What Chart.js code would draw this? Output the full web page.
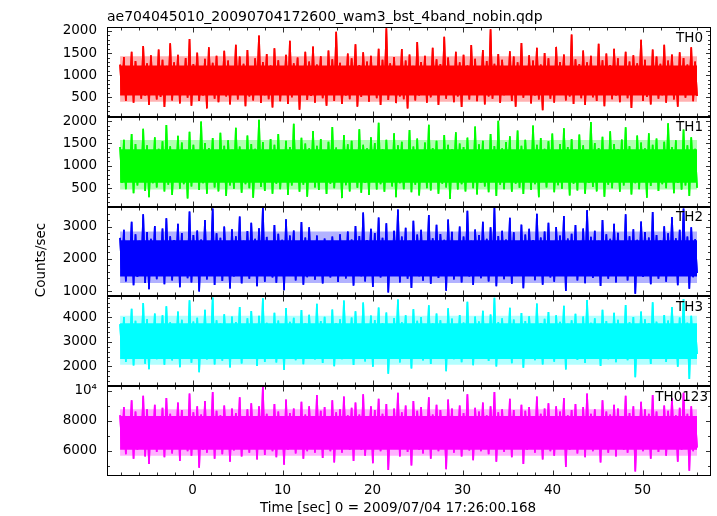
<!DOCTYPE html>
<html>
<head>
<meta charset="utf-8">
<script src="https://cdn.jsdelivr.net/npm/chart.js@4.4.1/dist/chart.umd.min.js"></script>
<style>
  html, body { margin: 0; padding: 0; background: #fff; }
  #wrap { position: relative; width: 717px; height: 516px; }
</style>
</head>
<body>
<div id="wrap"><canvas id="lc" width="717" height="516"></canvas></div>
<script>
const plotTitle = 'ae704045010_20090704172600_wam3_bst_4band_nobin.qdp';
const xTitle = 'Time [sec] 0 = 2009/07/04 17:26:00.168';
const yTitle = 'Counts/sec';

const bandNames = ['TH0', 'TH1', 'TH2', 'TH3', 'TH0123'];
const bandColors = ['#ff0000', '#00ff00', '#0000ff', '#00ffff', '#ff00ff'];
// edges of the solid part of each light curve
const bandCoreLo = [540, 620, 1450, 2300, 6050];
const bandCoreHi = [1220, 1370, 2580, 3760, 8300];
// edges of the thinner fringe of spikes around it
const bandFringeLo = [400, 470, 1250, 2060, 5650];
const bandFringeHi = [1430, 1580, 2850, 4060, 8750];

// axis limits / ticks
const xRange = [-9.5, 57.6];
const xMajorTicks = [0, 10, 20, 30, 40, 50];
const xMinorStep = 2;
const yMins = [60, 90, 835, 1190, 4300];
const yMaxs = [2090, 2096, 3620, 4850, 10290];
const yMajorTicks = [
  [500, 1000, 1500, 2000],
  [500, 1000, 1500, 2000],
  [1000, 2000, 3000],
  [2000, 3000, 4000],
  [6000, 8000, 10000]
];
const yMinorSteps = [100, 100, 200, 200, 1000];

// light curve covers -8.05 .. 56.05 s
const tFirst = -8.05;
const tLast = 56.05;

// count rates, alternating local peaks and dips
const th0Rate = [
  1240,560, 1410,420, 1090,610, 1530,380, 1320,690, 1180,470, 1660,540, 1270,330, 1450,620, 1130,450,
  1580,510, 1350,280, 1210,640, 1720,430, 1290,570, 1460,360, 1100,600, 1390,490, 1820,310, 1250,650,
  1510,420, 1160,540, 1370,250, 1630,600, 1280,470, 1440,390, 1060,660, 1550,520, 1330,340, 1200,580,
  1690,450, 1420,610, 1260,300, 1570,520, 1130,430, 1380,680, 1900,370, 1300,550, 1480,460, 1220,270,
  1610,590, 1340,410, 1150,630, 1460,350, 1780,500, 1270,560, 1400,220, 1190,620, 1530,440, 1310,530,
  1650,380, 1240,660, 1430,480, 1090,310, 1560,570, 1360,420, 1980,600, 1280,350, 1170,540, 1490,460,
  1380,640, 1700,290, 1230,510, 1520,580, 1310,400, 1440,620, 1120,480, 1600,330, 1350,560, 2060,440,
  1270,600, 1410,370, 1190,520, 1590,460, 1330,250, 1470,590, 1210,430, 1750,540, 1300,640, 1440,380,
  1140,500, 1620,600, 1360,330, 1250,560, 1870,470, 1400,650, 1180,390, 1530,520, 1290,280, 1460,610,
  1220,450, 1680,560, 1370,410, 1110,630, 1570,340, 1320,520, 2040,470, 1260,600, 1480,370, 1350,550,
  1190,640, 1540,420, 1420,290, 1290,580, 1730,490, 1160,620, 1450,360, 1330,540, 1620,450, 1240,210,
  1500,600, 1380,470, 1210,380, 1640,560, 1300,640, 1470,430, 1130,520, 1920,350, 1360,590, 1250,480,
  1560,330, 1290,610, 1440,500, 1180,420, 1710,570, 1340,300, 1490,630, 1230,460, 1600,540, 1380,390,
  1120,600, 1530,480, 1310,260, 1450,560, 1270,640, 1800,420, 1350,510, 1200,340, 1580,620, 1420,470,
  1260,550, 1690,380, 1330,600, 1470,450, 1150,290, 1520,580, 1390,490, 1240,640, 1630,410, 1310,530
];
const th1Rate = [
  1420,620, 1580,480, 1270,700, 1710,390, 1490,560, 1350,650, 1830,440, 1460,300, 1300,610, 1640,520,
  1380,700, 1550,430, 1910,580, 1440,350, 1290,660, 1670,490, 1520,590, 1360,270, 1760,540, 1470,680,
  1330,460, 1990,610, 1510,380, 1400,700, 1620,520, 1280,430, 1740,640, 1450,330, 1570,560, 1360,490,
  1850,680, 1430,400, 1300,590, 1680,500, 1490,290, 1380,650, 2030,530, 1530,440, 1320,700, 1600,380,
  1470,600, 1710,480, 1340,660, 1560,350, 1420,560, 1940,690, 1290,420, 1630,580, 1500,310, 1390,640,
  1780,520, 1450,460, 1600,690, 1310,370, 1540,600, 1870,500, 1410,660, 1350,280, 1690,570, 1480,430,
  1560,650, 1300,510, 1820,400, 1470,620, 1390,350, 1640,690, 1510,470, 1960,590, 1370,420, 1580,660,
  1290,540, 1730,300, 1460,610, 1540,480, 1350,690, 1800,410, 1430,580, 1610,340, 1280,640, 1520,500,
  1920,450, 1400,680, 1560,380, 1330,600, 1690,520, 1470,260, 1370,650, 1750,470, 1500,590, 1420,430,
  1630,700, 1310,500, 1880,360, 1480,630, 1560,540, 1350,410, 1710,670, 1440,330, 2010,580, 1390,480,
  1530,690, 1660,420, 1300,600, 1790,510, 1450,370, 1580,650, 1340,460, 1900,590, 1470,300, 1620,640,
  1380,520, 1550,680, 1720,410, 1310,570, 1490,490, 1840,660, 1420,340, 1600,600, 1360,450, 1700,700,
  1460,380, 1290,620, 1980,530, 1510,430, 1400,690, 1650,310, 1330,580, 1770,500, 1490,650, 1370,420,
  1590,560, 1860,690, 1440,360, 1320,610, 1680,480, 1520,640, 1390,290, 1730,550, 1470,670, 1610,440,
  1300,590, 1540,500, 1950,680, 1420,390, 1570,620, 1350,470, 1810,560, 1460,330, 1640,660, 1380,510
];
const th2Rate = [
  2650,1520, 2900,1300, 2480,1650, 3150,1180, 2760,1440, 2560,1590, 3380,1250, 2830,1060, 2620,1500, 3020,1370,
  2510,1620, 2940,1210, 3260,1470, 2700,1330, 2580,1680, 3090,1120, 2800,1550, 2460,1400, 3470,1270, 2740,1600,
  2880,990, 2600,1480, 3200,1360, 2530,1640, 3560,1190, 2790,1520, 2650,1310, 3000,1680, 2470,1080, 2920,1450,
  2700,1590, 3310,1240, 2560,1500, 2860,1380, 3120,1660, 2620,1150, 2950,1540, 3600,1290, 2680,1620, 2500,1420,
  3050,1260, 2780,1580, 2590,1030, 3230,1470, 2720,1650, 2880,1330, 2450,1560, 3140,1200, 2660,1430, 2980,1620,
  2540,1350, 2720,1510, 2480,1240, 2630,1660, 2410,1420, 2690,1560, 2520,1280, 2760,1640, 2470,1390, 2850,1500,
  2600,1170, 3020,1600, 2710,1460, 3440,1300, 2580,1680, 2930,1130, 2800,1520, 3280,1420, 2650,1590, 3100,960,
  2530,1490, 2870,1640, 3530,1270, 2690,1550, 2960,1380, 2560,1100, 3180,1610, 2750,1460, 2900,1320, 2480,1670,
  3360,1230, 2640,1540, 3060,1410, 2770,1650, 2590,1010, 3220,1500, 2840,1360, 2510,1620, 3000,1270, 2690,1580,
  3490,1450, 2560,1190, 2910,1660, 2740,1400, 3150,1540, 2620,1300, 2980,1630, 3580,1150, 2710,1490, 2870,1370,
  2600,1610, 3270,1230, 2820,1520, 2490,1660, 3060,1090, 2750,1480, 2930,1620, 2580,1340, 3400,1550, 2660,1200,
  2850,1640, 3120,1420, 2540,1290, 2990,1580, 2720,1680, 3330,1000, 2630,1470, 2780,1600, 3050,1330, 2500,1550,
  2940,1240, 3510,1620, 2680,1410, 2870,1530, 2560,1160, 3200,1650, 2760,1380, 2620,1510, 3090,1270, 2810,1630,
  2480,1470, 3380,1330, 2700,1600, 2920,920, 2590,1520, 3160,1440, 2830,1660, 2660,1210, 3450,1560, 2740,1380,
  2570,1620, 3010,1290, 2790,1500, 3300,1660, 2640,1180, 2900,1480, 3560,1600, 2690,1070, 2980,1430, 2610,1560
];
const th3Rate = [
  3720,2450, 4010,2180, 3580,2600, 4350,2030, 3860,2380, 3650,2520, 4580,2110, 3930,1880, 3700,2470, 4150,2290,
  3610,2560, 4080,2070, 4450,2400, 3790,2240, 3660,2600, 4230,1960, 3900,2500, 3550,2330, 4690,2150, 3830,2560,
  3980,1760, 3690,2420, 4300,2280, 3620,2590, 4800,2080, 3880,2460, 3740,2230, 4120,2610, 3570,1950, 4030,2380,
  3800,2530, 4420,2120, 3650,2440, 3960,2300, 4250,2600, 3710,2010, 4060,2480, 4770,2180, 3770,2570, 3600,2350,
  4180,2160, 3870,2520, 3680,1850, 4380,2410, 3810,2600, 3980,2250, 3540,2490, 4290,2090, 3750,2370, 4100,2570,
  3630,2280, 4550,2450, 3850,2140, 4020,2610, 3590,2360, 4310,2000, 3760,2500, 3920,2290, 4680,2580, 3700,2420,
  3990,2060, 4240,2540, 3720,2400, 4600,2200, 3660,2620, 4070,1980, 3890,2460, 4400,2330, 3750,2550, 4190,1700,
  3620,2430, 3970,2590, 4720,2160, 3790,2480, 4080,2310, 3650,1910, 4330,2560, 3860,2390, 4010,2240, 3580,2610,
  4490,2100, 3740,2470, 4150,2330, 3880,2600, 3690,1800, 4370,2440, 3950,2290, 3600,2560, 4090,2170, 3780,2520,
  4630,2380, 3670,2050, 4030,2610, 3830,2340, 4260,2490, 3720,2220, 4110,2580, 4790,1990, 3800,2420, 3960,2300,
  3690,2560, 4390,2130, 3910,2470, 3580,2610, 4170,1940, 3850,2410, 4040,2570, 3640,2250, 4560,2480, 3760,2080,
  3940,2600, 4210,2350, 3620,2190, 4080,2520, 3810,2620, 4470,1870, 3730,2410, 3880,2560, 4140,2260, 3600,2480,
  4030,2140, 4700,2570, 3770,2360, 3960,2470, 3650,2010, 4300,2610, 3850,2290, 3710,2450, 4180,2170, 3900,2590,
  3580,2400, 4500,2250, 3790,2550, 4010,1560, 3680,2460, 4230,2340, 3920,2610, 3750,2100, 4610,2500, 3820,2300,
  3660,2580, 4090,2180, 3870,2440, 4420,2600, 3720,1980, 3990,2410, 4740,2540, 3780,1480, 4060,2360, 3700,2500
];
const th0123Rate = [
  8350,6150, 8900,5750, 8050,6350, 9350,5450, 8600,6050, 8200,6300, 9650,5600, 8750,5100, 8300,6200, 9050,5900,
  8100,6350, 8850,5550, 9500,6100, 8450,5800, 8250,6400, 9200,5300, 8700,6250, 8000,5950, 9800,5650, 8550,6350,
  8950,4850, 8400,6050, 9300,5850, 8150,6300, 9900,5450, 8650,6150, 8350,5750, 9000,6400, 8050,5250, 8800,6000,
  8500,6300, 9550,5600, 8200,6100, 8750,5850, 9150,6400, 8300,5400, 8950,6200, 10300,5700, 8450,6350, 8100,5950,
  9100,5550, 8600,6250, 8250,5050, 9400,6050, 8500,6400, 8800,5800, 8000,6150, 9250,5450, 8400,5950, 8950,6350,
  8150,5850, 9700,6100, 8650,5500, 8900,6400, 8050,5950, 9350,5200, 8550,6200, 8750,5850, 9600,6350, 8350,6050,
  8850,5300, 9200,6300, 8400,6050, 9750,5650, 8250,6450, 8950,5150, 8700,6150, 9450,5950, 8450,6300, 9100,4700,
  8100,6100, 8800,6350, 9850,5600, 8550,6200, 9000,5900, 8200,5000, 9300,6300, 8650,6050, 8900,5800, 8050,6400,
  9550,5450, 8400,6150, 9050,5950, 8700,6350, 8300,4750, 9400,6100, 8800,5850, 8150,6300, 9000,5600, 8500,6250,
  9750,6000, 8250,5350, 8850,6400, 8600,5950, 9200,6150, 8350,5750, 8950,6300, 9900,5250, 8550,6100, 8750,5900,
  8300,6300, 9450,5550, 8700,6150, 8050,6400, 9050,5100, 8650,6050, 8900,6300, 8200,5850, 9600,6150, 8450,5400,
  8800,6400, 9150,5950, 8150,5650, 8950,6250, 8600,6450, 9500,4900, 8350,6050, 8700,6300, 9100,5800, 8100,6150,
  8900,5550, 9800,6300, 8450,5950, 8750,6150, 8250,5200, 9350,6400, 8600,5850, 8400,6100, 9050,5600, 8800,6350,
  8050,6050, 9650,5850, 8500,6250, 8950,4600, 8300,6150, 9250,5950, 8750,6400, 8450,5450, 9700,6200, 8600,5900,
  8200,6300, 9000,5650, 8650,6100, 9500,6400, 8350,5250, 8850,6050, 9850,6250, 8450,4650, 8950,5950, 8300,6200
];

const rates = [th0Rate, th1Rate, th2Rate, th3Rate, th0123Rate];

const FONT = 'DejaVu Sans';

// samples are evenly spaced over the observed time span
const withTimes = values => values.map((v, i) => ({
  x: tFirst + i * (tLast - tFirst) / (values.length - 1),
  y: v
}));

const fade = (hex, a) => {
  const n = parseInt(hex.slice(1), 16);
  return `rgba(${n >> 16}, ${(n >> 8) & 255}, ${n & 255}, ${a})`;
};

// every curve is drawn in layers that share the same points: a faint fill out to the
// fringe, then solid fills up to the top and down to the bottom of the dense core,
// so the core is solid and the single peaks and dips stick out of it
const datasets = [];
bandNames.forEach((name, i) => {
  const points = withTimes(rates[i]);
  const layer = (level, color, width) => ({
    label: name,
    data: points,
    yAxisID: 'y' + i,
    borderColor: bandColors[i],
    backgroundColor: color,
    borderWidth: width,
    pointRadius: 0,
    tension: 0,
    fill: { value: level }
  });
  datasets.push(layer(bandFringeHi[i], fade(bandColors[i], 0.3), 0));
  datasets.push(layer(bandFringeLo[i], fade(bandColors[i], 0.3), 0));
  datasets.push(layer(bandCoreHi[i], bandColors[i], 1.6));
  datasets.push(layer(bandCoreLo[i], bandColors[i], 1.6));
});

const scales = {
  x: {
    type: 'linear', position: 'bottom', min: xRange[0], max: xRange[1],
    grid: { display: false, drawTicks: false }, border: { display: false },
    ticks: { color: '#000', font: { family: FONT, size: 13.5 }, padding: 6, maxRotation: 0, autoSkip: false },
    afterBuildTicks: s => { s.ticks = xMajorTicks.map(v => ({ value: v })); },
    afterFit: s => { s.height = 40; }
  }
};
// stacked axes are placed bottom-up, so add the lowest panel first
for (let i = bandNames.length - 1; i >= 0; i--) {
  scales['y' + i] = {
    type: 'linear', position: 'left', stack: 'bands', stackWeight: 1,
    min: yMins[i], max: yMaxs[i],
    grid: { display: false, drawTicks: false }, border: { display: false },
    ticks: {
      color: '#000', font: { family: FONT, size: 13.5 }, padding: 10, autoSkip: false,
      callback: v => (v === 10000 ? '10\u2074' : String(v))
    },
    afterBuildTicks: s => { s.ticks = yMajorTicks[i].map(v => ({ value: v })); },
    afterFit: s => { s.width = 107; }
  };
}

const panelFrame = {
  id: 'panelFrame',
  beforeDatasetDraw(chart, args) {
    const ds = chart.data.datasets[args.index];
    const s = chart.scales[ds.yAxisID];
    const a = chart.chartArea;
    chart.ctx.save();
    chart.ctx.beginPath();
    chart.ctx.rect(a.left, s.top, a.right - a.left, s.bottom - s.top);
    chart.ctx.clip();
  },
  afterDatasetDraw(chart) {
    chart.ctx.restore();
  },
  afterDraw(chart) {
    const ctx = chart.ctx;
    const a = chart.chartArea;
    const xs = chart.scales.x;
    const L = Math.round(a.left) + 0.5;
    const R = Math.round(a.right) - 0.5;
    ctx.save();
    ctx.lineWidth = 1;

    bandNames.forEach((name, i) => {
      const s = chart.scales['y' + i];
      const top = Math.round(s.top) + 0.5;
      const bottom = Math.round(s.bottom) - 0.5;

      ctx.strokeStyle = '#333';
      ctx.beginPath();
      // y ticks, left and right, pointing inward
      const step = yMinorSteps[i];
      for (let v = Math.ceil(yMins[i] / step) * step; v <= yMaxs[i]; v += step) {
        const len = yMajorTicks[i].includes(v) ? 4.5 : 2.5;
        const y = Math.round(s.getPixelForValue(v)) + 0.5;
        ctx.moveTo(L, y); ctx.lineTo(L + len, y);
        ctx.moveTo(R, y); ctx.lineTo(R - len, y);
      }
      // x ticks on top and bottom edge of every panel
      for (let t = Math.ceil(xRange[0] / xMinorStep) * xMinorStep; t <= xRange[1]; t += xMinorStep) {
        const len = xMajorTicks.includes(t) ? 5 : 3;
        const x = Math.round(xs.getPixelForValue(t)) + 0.5;
        ctx.moveTo(x, top); ctx.lineTo(x, top + len);
        ctx.moveTo(x, bottom); ctx.lineTo(x, bottom - len);
      }
      ctx.stroke();

      ctx.strokeStyle = '#000';
      ctx.strokeRect(L, top, R - L, bottom - top);

      ctx.fillStyle = '#000';
      ctx.font = '13.5px "' + FONT + '"';
      ctx.textAlign = 'right';
      ctx.textBaseline = 'middle';
      ctx.fillText(name, name === 'TH0123' ? a.right - 3 : a.right - 8, s.top + 11);
    });

    ctx.fillStyle = '#000';
    ctx.font = '14px "' + FONT + '"';
    ctx.textAlign = 'left';
    ctx.textBaseline = 'alphabetic';
    ctx.fillText(plotTitle, a.left, 20.5);

    ctx.font = '13.5px "' + FONT + '"';
    ctx.textAlign = 'center';
    ctx.fillText(xTitle, 398, 512);

    ctx.translate(41, 260);
    ctx.rotate(-Math.PI / 2);
    ctx.textBaseline = 'middle';
    ctx.fillText(yTitle, 0, 0);
    ctx.restore();
  }
};

new Chart(document.getElementById('lc'), {
  type: 'line',
  data: { datasets },
  options: {
    responsive: false,
    animation: false,
    events: [],
    layout: { padding: { left: 0, right: 6, top: 27, bottom: 0 } },
    plugins: { legend: { display: false }, tooltip: { enabled: false }, title: { display: false } },
    scales
  },
  plugins: [panelFrame]
});
</script>
</body>
</html>
